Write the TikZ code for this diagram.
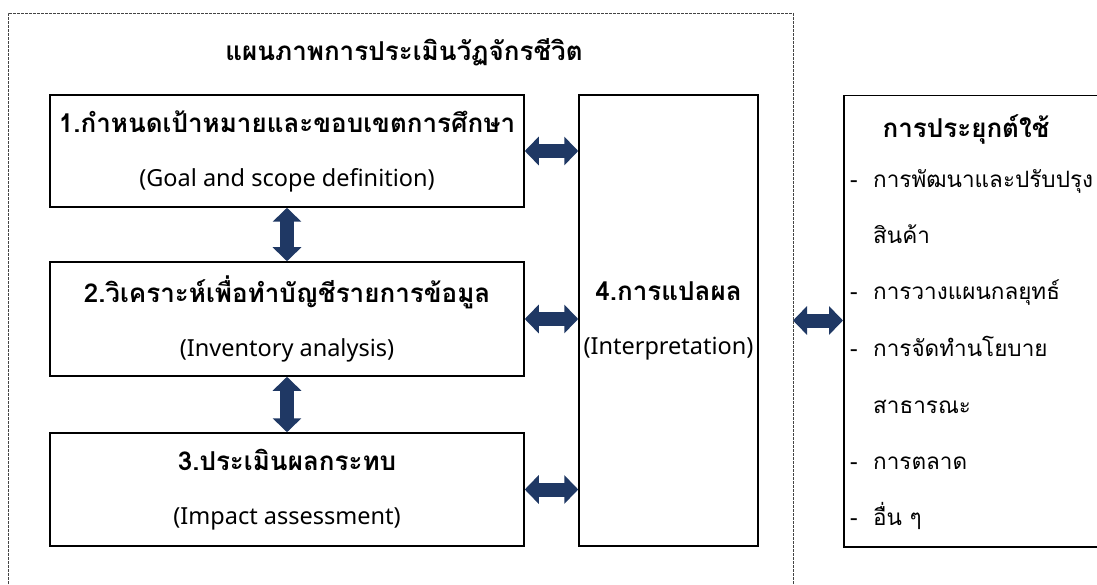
\documentclass[tikz,border=0pt]{standalone}
\usepackage{fontspec}
\setmainfont{Loma}[Script=Thai]
\newfontfamily\engfont{Noto Sans}
\usetikzlibrary{arrows.meta, positioning}

\definecolor{arrowblue}{HTML}{1F3864}
\definecolor{framegray}{HTML}{444444}

\newcommand{\thaihead}{\fontsize{26}{30}\selectfont\bfseries}
\newcommand{\thaibody}{\fontsize{22.5}{27}\selectfont}
\newcommand{\engbody}{\engfont\fontsize{23.5}{28}\selectfont}

\tikzset{
  stagebox/.style={draw=black, line width=1.5pt, align=center, inner sep=0pt,
    font=\fontsize{26}{54}\selectfont},
  dblarrow/.style={draw=arrowblue, line width=14pt,
    {Triangle[width=28pt,length=14pt]}-{Triangle[width=28pt,length=14pt]}},
  itemtext/.style={anchor=base west, inner sep=0pt, font=\thaibody},
}

\begin{document}
\begin{tikzpicture}[x=1pt, y=-1pt]
\useasboundingbox (0,0) rectangle (1097,585);
\clip (0,0) rectangle (1097,585);

% dashed frame round the life cycle part
\draw[framegray, line width=0.8pt, dash pattern=on 3pt off 1pt] (8,620) -- (8,13) -- (793,13) -- (793,620);
\coordinate (frameedge) at (793,13);
\node[font=\thaihead] (title) at (404,52) {แผนภาพการประเมินวัฏจักรชีวิต};

% the four stages
\node[stagebox, minimum width=474pt, minimum height=112pt] (goal) at (287,151)
  {{\thaihead 1.กำหนดเป้าหมายและขอบเขตการศึกษา}\\{\engbody (Goal and scope definition)}};
\node[stagebox, minimum width=474pt, minimum height=114pt] (inventory) at (287,319)
  {{\thaihead 2.วิเคราะห์เพื่อทำบัญชีรายการข้อมูล}\\{\engbody (Inventory analysis)}};
\node[stagebox, minimum width=474pt, minimum height=113pt] (impact) at (287,489.5)
  {{\thaihead 3.ประเมินผลกระทบ}\\{\engbody (Impact assessment)}};
\node[stagebox, minimum width=179pt, minimum height=451pt] (interp) at (668.5,320.5)
  {{\thaihead 4.การแปลผล}\\{\engbody (Interpretation)}};

% applications
\node[draw=black, line width=1.5pt, minimum width=300pt, minimum height=451pt, anchor=north west] (apply) at (843,95) {};
\node[font=\thaihead] (applyhead) at (966,129) {การประยุกต์ใช้};
\node[itemtext] (item1) at (850,188) {\makebox[23pt][l]{-}การพัฒนาและปรับปรุง};
\node[itemtext] (item1b) at (850,244) {\hspace{23pt}สินค้า};
\node[itemtext] (item2) at (850,299) {\makebox[23pt][l]{-}การวางแผนกลยุทธ์};
\node[itemtext] (item3) at (850,356) {\makebox[23pt][l]{-}การจัดทำนโยบาย};
\node[itemtext] (item3b) at (850,413) {\hspace{23pt}สาธารณะ};
\node[itemtext] (item4) at (850,469) {\makebox[23pt][l]{-}การตลาด};
\node[itemtext] (item5) at (850,525) {\makebox[23pt][l]{-}อื่น ๆ};

% double arrows
\draw[dblarrow] (goal.south) -- (inventory.north);
\draw[dblarrow] (inventory.south) -- (impact.north);
\draw[dblarrow] (goal.east) -- (goal.east -| interp.west);
\draw[dblarrow] (inventory.east) -- (inventory.east -| interp.west);
\draw[dblarrow] (impact.east) -- (impact.east -| interp.west);
\draw[dblarrow] (interp -| frameedge) -- (interp -| apply.west);
\end{tikzpicture}
\end{document}
